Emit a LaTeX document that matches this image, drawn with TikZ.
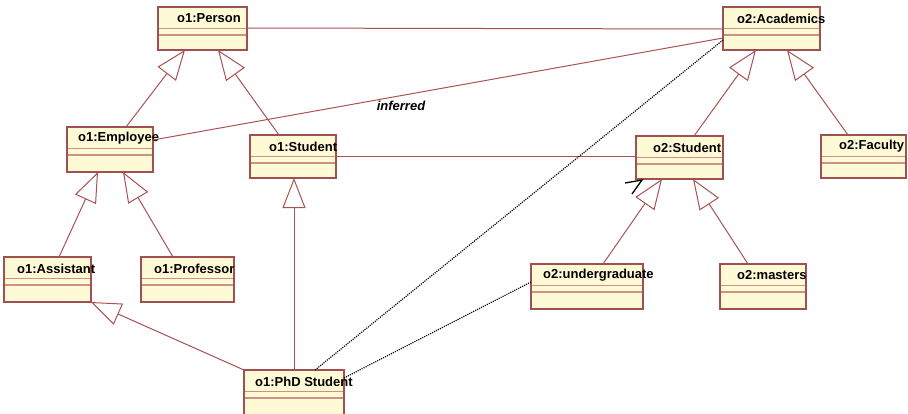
\documentclass[tikz,border=0pt]{standalone}
\usepackage{fontspec}
\setmainfont{Liberation Sans}
\usetikzlibrary{arrows.meta,calc}
\definecolor{boxfill}{RGB}{255,250,214}
\definecolor{boxdraw}{RGB}{160,80,80}
\definecolor{divcol}{RGB}{205,145,135}
\definecolor{conn}{RGB}{170,82,82}
\tikzset{
  umlbox/.style={draw=boxdraw, line width=1.6pt, fill=boxfill, rectangle, inner sep=0pt, outer sep=0pt, anchor=north west},
  umltext/.style={anchor=west, inner sep=0pt, font=\bfseries\fontsize{13}{15}\selectfont},
  divider/.style={draw=divcol, line width=1.1pt},
  gen/.style={draw=conn, line width=1pt, -{Triangle[open, length=30pt, width=23pt, fill=white]}},
  assoc/.style={draw=conn, line width=1pt},
  dep/.style={draw=black, line width=1.2pt, dash pattern=on 1.1pt off 1.1pt},
}
\newcommand\umlclass[7]{%
  \node[umlbox, minimum width=#4pt, minimum height=#5pt] (#1) at (#2,#3) {};
  \draw[divider] ([yshift=-21.5pt]#1.north west) -- ([yshift=-21.5pt]#1.north east);
  \draw[divider] ([yshift=-28pt]#1.north west) -- ([yshift=-28pt]#1.north east);
  \draw[draw=boxdraw, line width=1.6pt] (#1.north west) rectangle (#1.south east);
  \node[umltext] (#1-t) at (#6,#3+11.5) {#7};
}
\begin{document}
\begin{tikzpicture}[x=1pt,y=-1pt]
\useasboundingbox (0,0) rectangle (908,413);
\umlclass{person}{158}{7}{89}{43}{177}{o1:Person}
\umlclass{acad}{723}{7}{97}{43}{737}{o2:Academics}
\umlclass{emp}{67}{127}{86}{45}{78}{o1:Employee}
\umlclass{stone}{250}{135}{86}{43}{269}{o1:Student}
\umlclass{sttwo}{636}{136}{87}{43}{653}{o2:Student}
\umlclass{fac}{821}{135}{85}{43}{839}{o2:Faculty}
\umlclass{asst}{4}{257}{87}{45}{17}{o1:Assistant}
\umlclass{prof}{141}{257}{93}{45}{154}{o1:Professor}
\umlclass{ug}{531}{264}{112}{45}{543}{o2:undergraduate}
\umlclass{ms}{720}{264}{86}{45}{737}{o2:masters}
\umlclass{phd}{244}{370}{100}{46}{255}{o1:PhD Student}

% generalizations
\draw[gen] ([xshift=59pt]emp.north west) -- ([xshift=27pt]person.south west);
\draw[gen] ([xshift=29pt]stone.north west) -- ([xshift=60pt]person.south west);
\draw[gen] ([xshift=55pt]asst.north west) -- ([xshift=31pt]emp.south west);
\draw[gen] ([xshift=32pt]prof.north west) -- ([xshift=56pt]emp.south west);
\draw[gen] ([xshift=50pt]phd.north west) -- ([xshift=44pt]stone.south west);
\draw[gen] (phd.north west) -- (asst.south east);
\draw[gen] ([xshift=58pt]sttwo.north west) -- ([xshift=33pt]acad.south west);
\draw[gen] ([xshift=27pt]fac.north west) -- ([xshift=64pt]acad.south west);
\draw[gen] ([xshift=72pt]ug.north west) -- ([xshift=26pt]sttwo.south west);
\draw[gen] ([xshift=28pt]ms.north west) -- ([xshift=57pt]sttwo.south west);

% associations
\draw[assoc] ([yshift=-21pt]person.north east) -- ([yshift=-22pt]acad.north west);
\draw[assoc] ([yshift=-21.5pt]stone.north east) -- ([yshift=-20.5pt]sttwo.north west);
\draw[assoc] ([yshift=-13pt]emp.north east) -- ([yshift=-31pt]acad.north west);
\node[anchor=center, inner sep=0pt, font=\bfseries\itshape\fontsize{13}{15}\selectfont] (inf) at (401,106) {inferred};

% dotted dependencies
\draw[dep] ([xshift=71pt]phd.north west) -- ([yshift=-33pt]acad.north west);
\draw[dep] ([yshift=-8pt]phd.north east) -- ([yshift=-18pt]ug.north west);

% stray mark
\draw[black, line width=1.3pt] (625,183) -- (642,180) -- (632,194);
\end{tikzpicture}
\end{document}
